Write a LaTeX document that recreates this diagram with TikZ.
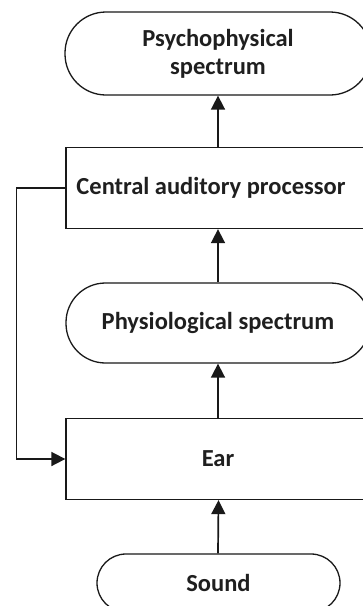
\documentclass[tikz,border=0pt]{standalone}
\usepackage{fontspec}
\setmainfont{Carlito}
\usetikzlibrary{arrows.meta}
\begin{document}
\begin{tikzpicture}[x=1pt,y=-1pt,
  shapeline/.style={draw=black!90, line width=1.3pt},
  txt/.style={font=\bfseries\fontsize{24.5}{28}\selectfont, text=black!88},
  box/.style={shapeline, txt, rectangle, minimum width=304pt, minimum height=81pt, inner sep=0pt},
  pill/.style={shapeline, txt, rectangle, inner sep=0pt, align=center},
  conn/.style={line width=1.7pt, draw=black!90, -{Triangle[length=14pt,width=14pt]}}]
\useasboundingbox (0,0) rectangle (363,606);
\clip (0,0) rectangle (363,606);
\node[pill, rounded corners=41pt, minimum width=306pt, minimum height=83pt] (psy) at (218,53.5) {Psychophysical\\spectrum};
\node[box, label={[txt, xshift=-7pt]center:Central auditory processor}] (cap) at (218,188) {};
\node[pill, rounded corners=39.5pt, minimum width=304pt, minimum height=80pt] (phys) at (218,323) {Physiological spectrum};
\node[box] (ear) at (218,459) {Ear};
\node[pill, rounded corners=29pt, minimum width=243pt, minimum height=58pt] (sound) at (218.5,583) {Sound};
\draw[conn] (cap.north -| psy.south) -- (psy.south);
\draw[conn] (phys.north) -- (phys.north |- cap.south);
\draw[conn] (ear.north -| phys.south) -- (phys.south);
\draw[conn] (sound.north -| ear.south) -- (ear.south -| sound.north);
\draw[conn] (cap.west) -- ++(-49,0) |- (ear.west);
\end{tikzpicture}
\end{document}
